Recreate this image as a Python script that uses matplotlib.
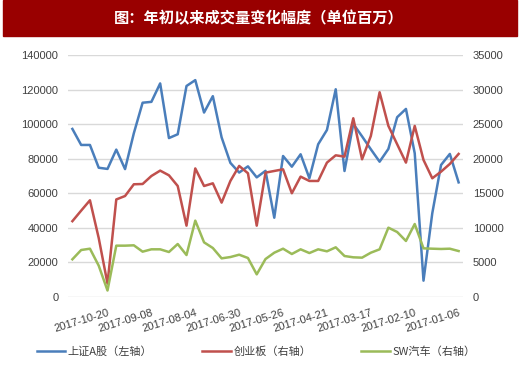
import matplotlib
matplotlib.use("Agg")
import matplotlib.pyplot as plt

plt.rcParams["font.family"] = ["Liberation Sans", "Noto Sans CJK SC", "DejaVu Sans"]

# weekly volume, newest first
DATES = [
    "2017-11-17", "2017-11-10", "2017-11-03", "2017-10-27", "2017-10-20",
    "2017-10-13", "2017-09-29", "2017-09-22", "2017-09-15", "2017-09-08",
    "2017-09-01", "2017-08-25", "2017-08-18", "2017-08-11", "2017-08-04",
    "2017-07-28", "2017-07-21", "2017-07-14", "2017-07-07", "2017-06-30",
    "2017-06-23", "2017-06-16", "2017-06-09", "2017-06-02", "2017-05-26",
    "2017-05-19", "2017-05-12", "2017-05-05", "2017-04-28", "2017-04-21",
    "2017-04-14", "2017-04-07", "2017-03-31", "2017-03-24", "2017-03-17",
    "2017-03-10", "2017-03-03", "2017-02-24", "2017-02-17", "2017-02-10",
    "2017-02-03", "2017-01-26", "2017-01-20", "2017-01-13", "2017-01-06",
]
SH_A = [
    97300, 88000, 88000, 74800, 74100, 85300, 74000, 94800, 112500, 113000,
    123700, 92000, 94200, 122200, 125600, 106800, 116300, 92400, 77600, 72000,
    75600, 69200, 73000, 45800, 81600, 75400, 82600, 68700, 88400, 96700,
    120300, 72900, 100200, 93000, 85500, 78300, 85700, 104100, 108900, 83200,
    9300, 48400, 76400, 82800, 66300,
]
CYB = [
    10950, 12480, 13980, 8500, 1900, 14100, 14600, 16300, 16340, 17500,
    18280, 17600, 16050, 10300, 18600, 16050, 16440, 13640, 16780, 18960,
    17900, 10300, 17990, 18230, 18470, 15000, 17410, 16780, 16780, 19440,
    20500, 20310, 25870, 19920, 23300, 29640, 24760, 22100, 19440, 24760,
    19830, 17170, 18130, 19250, 20700,
]
SW_AUTO = [
    5420, 6770, 6960, 4500, 900, 7400, 7400, 7450, 6530, 6870,
    6870, 6480, 7640, 6040, 11030, 7880, 7060, 5560, 5750, 6090,
    5610, 3240, 5460, 6380, 6960, 6190, 6870, 6330, 6870, 6580,
    7160, 5900, 5710, 5660, 6380, 6870, 10010, 9380, 8080, 10540,
    7010, 6960, 6920, 6960, 6620,
]
LEFT_TICKS = list(range(0, 140001, 20000))
RIGHT_TICKS = list(range(0, 35001, 5000))
LABELS = ["上证A股（左轴）", "创业板（右轴）", "SW汽车（右轴）"]
TITLE = "图：年初以来成交量变化幅度（单位百万）"

BLUE, RED, GREEN = "#4a7ebb", "#c0504d", "#9bbb59"
TXT = "#404040"

fig = plt.figure(figsize=(5.2, 3.66), dpi=100)

# title banner
fig.patches.append(plt.Rectangle((3 / 520, 1 - 36 / 366), 514 / 520, 36 / 366,
                                 transform=fig.transFigure, color="#990000"))
fig.text(0.497, 1 - 18 / 366, TITLE, color="white", fontsize=11, fontweight="bold",
         ha="center", va="center", family=["Noto Sans CJK SC", "DejaVu Sans"])

ax = fig.add_axes([68 / 520, 1 - 296.7 / 366, 395 / 520, 241.4 / 366])
ax2 = ax.twinx()

x = list(range(len(DATES)))
l1, = ax.plot(x, SH_A, color=BLUE, lw=1.8)
l2, = ax2.plot(x, CYB, color=RED, lw=1.8)
l3, = ax2.plot(x, SW_AUTO, color=GREEN, lw=1.8)

ax.set_xlim(-0.5, len(DATES) - 0.5)
ax.set_ylim(0, 140000)
ax2.set_ylim(0, 35000)
ax.set_yticks(LEFT_TICKS)
ax2.set_yticks(RIGHT_TICKS)
ax.grid(axis="y", color="#d9d9d9", lw=1)
ax.set_axisbelow(True)

idx = list(range(4, len(DATES), 5))
ax.set_xticks(idx)
ax.set_xticklabels([DATES[i] for i in idx], rotation=17, ha="right", va="top",
                   rotation_mode="anchor")

for a in (ax, ax2):
    for s in a.spines.values():
        s.set_visible(False)
    a.tick_params(length=0, labelsize=8, labelcolor=TXT)
ax.tick_params(axis="y", pad=7)
ax2.tick_params(axis="y", pad=7)
ax.tick_params(axis="x", pad=8)

fig.legend([l1, l2, l3], LABELS, loc="center", bbox_to_anchor=(256 / 520, 1 - 352 / 366),
           ncol=3, frameon=False, fontsize=8, handlelength=2.6, handletextpad=0.2,
           columnspacing=4.5, labelcolor=TXT,
           prop={"family": ["Noto Sans CJK SC", "DejaVu Sans"], "size": 8})

fig.savefig("out.png", dpi=100)
